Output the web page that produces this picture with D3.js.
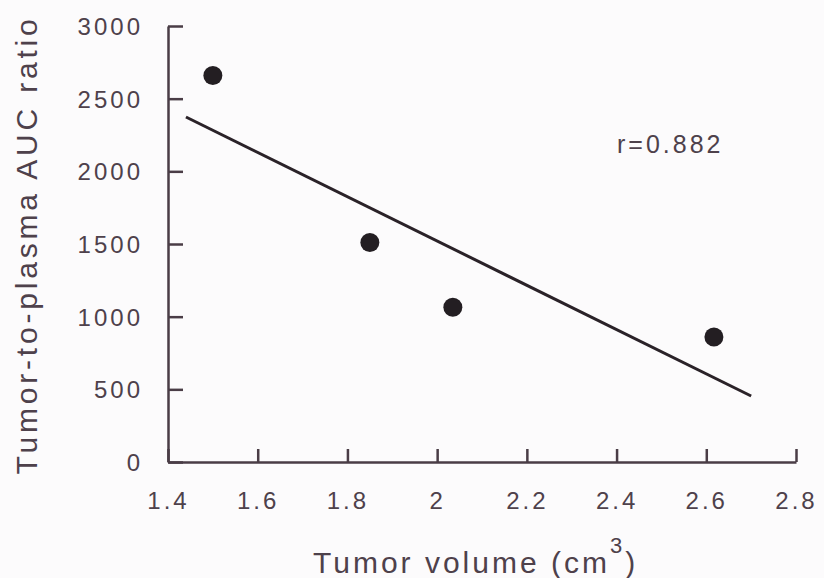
<!DOCTYPE html>
<html>
<head>
<meta charset="utf-8">
<script src="https://cdn.jsdelivr.net/npm/d3@7"></script>
<style>
  body { margin: 0; background: #fcfbfc; }
  svg text { font-family: "Liberation Sans", Arial, sans-serif; fill: #4e414b; }
</style>
</head>
<body>
<svg width="824" height="578"></svg>
<script>
// data
var volume = [1.5, 1.85, 2.035, 2.617];
var ratio = [2660, 1510, 1065, 860];
// regression line end points
var fitX = [1.44, 2.70];
var fitY = [2374, 454];
var xTicks = [1.4, 1.6, 1.8, 2.0, 2.2, 2.4, 2.6, 2.8];
var yTicks = [0, 500, 1000, 1500, 2000, 2500, 3000];

var svg = d3.select("svg"),
    ink = "#4a3d46";

var x = d3.scaleLinear().domain([1.4, 2.8]).range([168, 796]);
var y = d3.scaleLinear().domain([0, 3000]).range([462, 26]);

// axes, ticks point inward
var xAxis = svg.append("g")
    .attr("transform", "translate(0," + y(0) + ")")
    .call(d3.axisBottom(x).tickValues(xTicks).tickFormat(d3.format("~g"))
      .tickSizeInner(-13).tickSizeOuter(0).tickPadding(30));

var yAxis = svg.append("g")
    .attr("transform", "translate(" + x(1.4) + ",0)")
    .call(d3.axisLeft(y).tickValues(yTicks).tickFormat(d3.format("d"))
      .tickSizeInner(-15).tickSizeOuter(0).tickPadding(25));

[xAxis, yAxis].forEach(function(a) {
  a.select(".domain").attr("stroke", ink).attr("stroke-width", 2.5);
  a.selectAll(".tick line").attr("stroke", ink).attr("stroke-width", 2.5);
  a.selectAll(".tick text")
    .attr("font-size", 24)
    .style("letter-spacing", "3px")
    .attr("fill", "#4e414b");
});
yAxis.selectAll(".tick text").attr("dy", "0.36em");

// fit line
svg.append("line")
    .attr("x1", x(fitX[0])).attr("y1", y(fitY[0]))
    .attr("x2", x(fitX[1])).attr("y2", y(fitY[1]))
    .attr("stroke", "#2a2228")
    .attr("stroke-width", 3);

// points
svg.selectAll("circle.pt")
  .data(d3.range(volume.length))
  .enter().append("circle")
    .attr("class", "pt")
    .attr("cx", function(i) { return x(volume[i]); })
    .attr("cy", function(i) { return y(ratio[i]); })
    .attr("r", 9.5)
    .attr("fill", "#231e22");

// r annotation
svg.append("text")
    .attr("x", 617).attr("y", 153)
    .attr("font-size", 25)
    .style("letter-spacing", "3px")
    .text("r=0.882");

// x title with superscript
var xt = svg.append("text")
    .attr("x", 313).attr("y", 573)
    .attr("font-size", 30)
    .style("letter-spacing", "3px");
xt.append("tspan").text("Tumor volume (cm");
xt.append("tspan").attr("dy", -20).attr("font-size", 22).text("3");
xt.append("tspan").attr("dy", 20).text(")");

// y title
svg.append("text")
    .attr("transform", "translate(37,245)rotate(-90)")
    .attr("text-anchor", "middle")
    .attr("font-size", 30)
    .style("letter-spacing", "3.8px")
    .text("Tumor-to-plasma AUC ratio");
</script>
</body>
</html>
